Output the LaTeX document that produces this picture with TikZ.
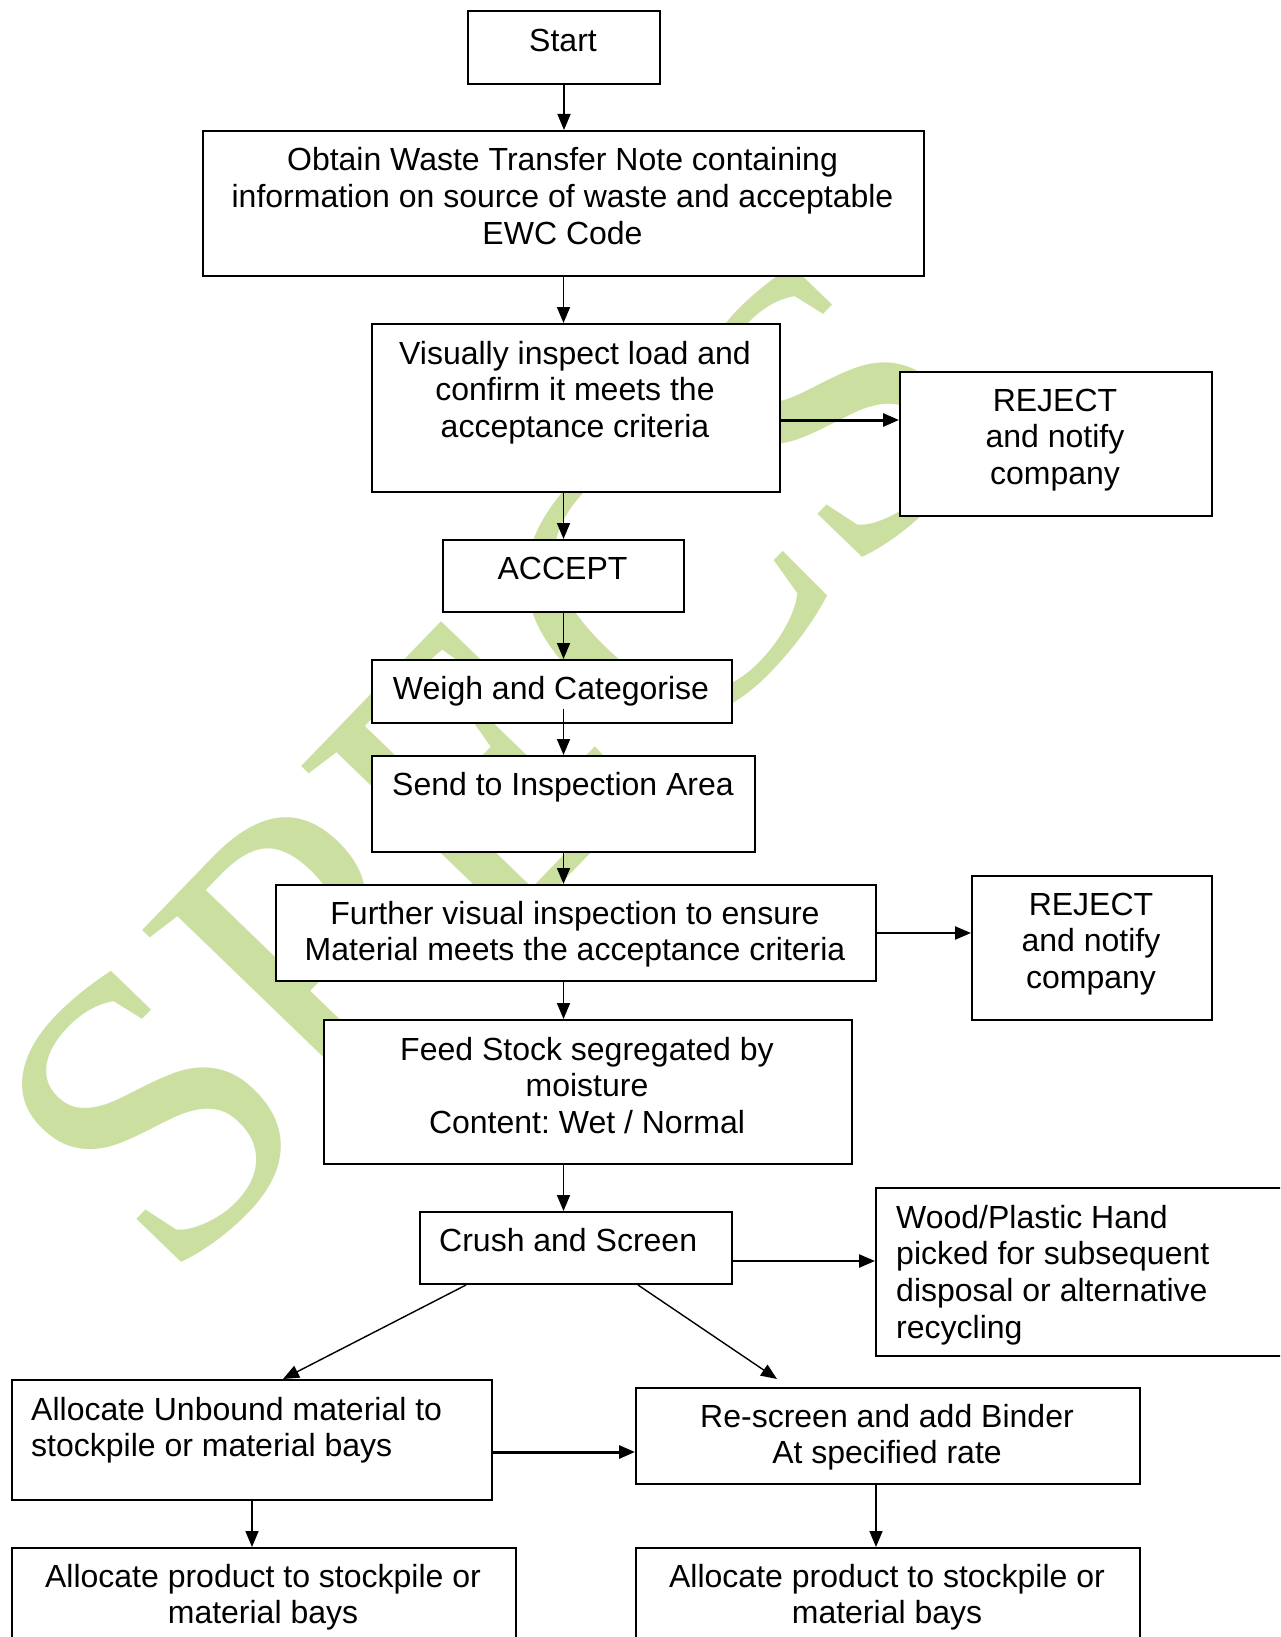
\documentclass[tikz,border=0pt]{standalone}
\usepackage{fontspec}
\setmainfont{Liberation Sans}
\newfontfamily\wmfont{Liberation Serif}
\usetikzlibrary{arrows.meta}
\definecolor{wmgreen}{RGB}{202,223,160}
\begin{document}
\begin{tikzpicture}[x=1pt,y=-1pt,
  box/.style={draw, line width=2pt, fill=white, inner sep=0pt, anchor=north west},
  txt/.style={font=\fontsize{32}{36.8}\selectfont\frenchspacing, inner sep=0pt, align=center, anchor=base},
  ltxt/.style={txt, align=left, anchor=base west},
  arr/.style={line width=1.7pt, -{Triangle[length=16pt,width=13pt]}},
  thickarr/.style={arr, line width=3pt},
  wm/.style={text=wmgreen, font=\wmfont\fontsize{410}{410}\selectfont, inner sep=0pt, rotate=46}
]
\useasboundingbox (0,0) rectangle (1280,1637);
\clip (0,0) rectangle (1280,1637);
\fill[white] (0,0) rectangle (1280,1637);
\node[wm] (wm) at (493,762) {SPECS};
% boxes
\node[box, minimum width=192pt, minimum height=73pt] (start) at (467,10) {};
\node[box, minimum width=721pt, minimum height=145pt] (obtain) at (202,130) {};
\node[box, minimum width=408pt, minimum height=168pt] (visual) at (371,323) {};
\node[box, minimum width=312pt, minimum height=144pt] (reject1) at (899,371) {};
\node[box, minimum width=241pt, minimum height=72pt] (accept) at (442,539) {};
\node[box, minimum width=360pt, minimum height=63pt] (weigh) at (371,659) {};
\node[box, minimum width=383pt, minimum height=96pt] (send) at (371,755) {};
\node[box, minimum width=600pt, minimum height=96pt] (further) at (275,884) {};
\node[box, minimum width=240pt, minimum height=144pt] (reject2) at (971,875) {};
\node[box, minimum width=528pt, minimum height=144pt] (feed) at (323,1019) {};
\node[box, minimum width=312pt, minimum height=72pt] (crush) at (419,1211) {};
\node[box, minimum width=420pt, minimum height=168pt] (wood) at (875,1187) {};
\node[box, minimum width=480pt, minimum height=120pt] (unbound) at (11,1379) {};
\node[box, minimum width=504pt, minimum height=96pt] (rescreen) at (635,1387) {};
\node[box, minimum width=504pt, minimum height=120pt] (allocL) at (11,1547) {};
\node[box, minimum width=504pt, minimum height=120pt] (allocR) at (635,1547) {};
% texts (anchor = baseline of the last line)
\node[txt] (startT) at (563,52) {Start};
\node[txt] (obtainT) at (562.5,244.6) {Obtain Waste Transfer Note containing\\information on source of waste and acceptable\\EWC Code};
\node[txt] (visualT) at (575,437.6) {Visually inspect load and\\confirm it meets the\\acceptance criteria};
\node[txt] (rej1T) at (1055,484.6) {REJECT\\and notify\\company};
\node[txt] (acceptT) at (562.5,579) {ACCEPT};
\node[txt] (weighT) at (551,699) {Weigh and Categorise};
\node[txt] (sendT) at (563,795) {Send to Inspection Area};
\node[txt] (furtherT) at (575,960.8) {Further visual inspection to ensure\\Material meets the acceptance criteria};
\node[txt] (rej2T) at (1091,988.6) {REJECT\\and notify\\company};
\node[txt] (feedT) at (587,1133.6) {Feed Stock segregated by\\moisture\\Content: Wet / Normal};
\node[ltxt] (crushT) at (439,1251) {Crush and Screen};
\node[ltxt] (woodT) at (896,1338.4) {Wood/Plastic Hand\\picked for subsequent\\disposal or alternative\\recycling};
\node[ltxt] (unboundT) at (31,1456.8) {Allocate Unbound material to\\stockpile or material bays};
\node[txt] (rescreenT) at (887,1463.8) {Re-screen and add Binder\\At specified rate};
\node[txt] (allocLT) at (263,1623.8) {Allocate product to stockpile or\\material bays};
\node[txt] (allocRT) at (887,1623.8) {Allocate product to stockpile or\\material bays};
% connectors
\draw[arr] (start.south) -- (start.south |- obtain.north);
\draw[arr] (obtain.south) -- (obtain.south |- visual.north);
\draw[thickarr] ([yshift=-12pt]visual.east) -- ([yshift=-12pt]visual.east -| reject1.west);
\draw[arr] (accept.north |- visual.south) -- (accept.north);
\draw[arr] (accept.south) -- (accept.south |- weigh.north);
\draw[arr] ([yshift=15pt]accept.south |- weigh.south) -- (accept.south |- send.north);
\draw[arr] (send.south) -- (send.south |- further.north);
\draw[thickarr, line width=2.3pt] (further.east) -- (further.east -| reject2.west);
\draw[arr] (send.south |- further.south) -- (send.south |- feed.north);
\draw[arr] (send.south |- feed.south) -- (send.south |- crush.north);
\draw[thickarr, line width=2.5pt] ([yshift=-13pt]crush.east) -- ([yshift=-13pt]crush.east -| wood.west);
\draw[arr, line width=1.4pt] ([xshift=47pt]crush.south west) -- ([xshift=31pt]unbound.north);
\draw[arr, line width=1.4pt] ([xshift=-95pt]crush.south east) -- ([xshift=142pt,yshift=8pt]rescreen.north west);
\draw[thickarr] ([yshift=-12pt]unbound.east) -- ([yshift=-12pt]unbound.east -| rescreen.west);
\draw[arr] (unbound.south) -- (unbound.south |- allocL.north);
\draw[arr] ([xshift=-12pt]rescreen.south) -- ([xshift=-12pt]rescreen.south |- allocR.north);
\end{tikzpicture}
\end{document}
